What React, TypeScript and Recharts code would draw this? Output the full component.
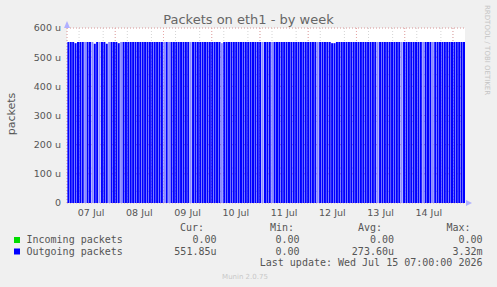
import { BarChart, Bar, XAxis, YAxis, CartesianGrid, Cell } from 'recharts';

// packets per slot (u = micro)
const SLOT_VALUES = [
  552, 552, 552, 548, 552, 552, 552, 552, 552, 552, 552, 546, 552, 552, 552, 552, 546, 552, 552, 552,
  552, 548, 552, 552, 552, 552, 552, 552, 552, 552, 552, 552, 552, 552, 552, 552, 552, 552, 552, 552,
  552, 552, 552, 552, 552, 552, 552, 552, 552, 552, 552, 552, 552, 552, 552, 552, 552, 552, 552, 552,
  552, 552, 552, 552, 548, 552, 552, 552, 552, 552, 552, 552, 552, 552, 552, 552, 552, 552, 552, 552,
  552, 552, 552, 552, 552, 552, 552, 552, 552, 552, 552, 552, 552, 552, 552, 552, 552, 552, 552, 552,
  552, 552, 552, 552, 552, 552, 552, 552, 552, 552, 548, 548, 552, 552, 552, 552, 552, 552, 552, 552,
  552, 552, 552, 552, 552, 552, 552, 552, 552, 552, 552, 552, 552, 552, 552, 552, 552, 552, 552, 552,
  552, 552, 552, 552, 552, 552, 552, 552, 552, 552, 552, 552, 552, 552, 552, 552, 552, 552, 552, 552,
  552, 552, 552, 552, 552, 552,
];
const FAINT_SLOTS = [7, 10, 13, 17, 22, 40, 42, 51, 64, 81, 85, 104, 129, 139, 148, 152];

const Y_TICKS = [0, 100, 200, 300, 400, 500, 600];
const Y_MINOR = [0, 20, 40, 60, 80, 100, 120, 140, 160, 180, 200, 220, 240, 260, 280, 300, 320, 340, 360, 380, 400, 420, 440, 460, 480, 500, 520, 540, 560, 580, 600];

// hours since 07 Jul 00:00
const HOURS_SPAN = 198;
const DAY_LABEL_HOURS = [12, 36, 60, 84, 108, 132, 156, 180];
const DAY_LABELS = ['07 Jul', '08 Jul', '09 Jul', '10 Jul', '11 Jul', '12 Jul', '13 Jul', '14 Jul'];
const MIDNIGHT_HOURS = [0, 24, 48, 72, 96, 120, 144, 168, 192];
const SIX_HOUR_MARKS = [0, 6, 12, 18, 24, 30, 36, 42, 48, 54, 60, 66, 72, 78, 84, 90, 96, 102, 108, 114, 120, 126, 132, 138, 144, 150, 156, 162, 168, 174, 180, 186, 192];

const SERIES = ['Incoming packets', 'Outgoing packets'];
const SERIES_COLORS = ['#00dd00', '#0000ff'];
const CUR = ['0.00', '551.85u'];
const MIN = ['0.00', '0.00'];
const AVG = ['0.00', '273.60u'];
const MAX = ['0.00', '3.32m'];
const LAST_UPDATE = 'Last update: Wed Jul 15 07:00:00 2026';

// each slot sits at its share of the time span
const slotHours = HOURS_SPAN / SLOT_VALUES.length;
const data = SLOT_VALUES.map((v, i) => ({ hour: (i + 0.5) * slotHours, packets: v }));

const mono = 'DejaVu Sans Mono';

export default function App() {
  return (
    <div style={{ position: 'absolute', left: 0, top: 0, width: 497, height: 287, background: '#f0f0f0', fontFamily: 'DejaVu Sans' }}>
      <BarChart width={497} height={287} data={data} margin={{ top: 28, right: 32, bottom: 64, left: 7 }} barCategoryGap="16%">
        <CartesianGrid
          fill="#ffffff"
          stroke="#d4d4d4"
          strokeDasharray="1 2"
          horizontalValues={Y_MINOR}
          verticalValues={SIX_HOUR_MARKS}
        />
        <CartesianGrid stroke="#e9a6a6" strokeDasharray="1 2" horizontalValues={Y_TICKS} verticalValues={MIDNIGHT_HOURS} />
        <XAxis
          dataKey="hour"
          type="number"
          domain={[0, HOURS_SPAN]}
          ticks={DAY_LABEL_HOURS}
          allowDataOverflow
          height={20}
          axisLine={false}
          tickLine={false}
          tickSize={6}
          tickMargin={0}
          tickFormatter={(h: number) => DAY_LABELS[DAY_LABEL_HOURS.indexOf(h)]}
          tick={{ fontSize: 9.5, fill: '#555', fontFamily: 'DejaVu Sans' }}
        />
        <YAxis
          domain={[0, 600]}
          ticks={Y_TICKS}
          width={60}
          axisLine={false}
          tickLine={false}
          tickSize={4}
          tickMargin={2}
          tickFormatter={(v: number) => (v === 0 ? '0' : `${v} u`)}
          tick={{ fontSize: 9.5, fill: '#555', fontFamily: 'DejaVu Sans' }}
        />
        <Bar dataKey="packets" fill="#0000ff" isAnimationActive={false}>
          {data.map((_, i) => (
            <Cell key={i} fill={FAINT_SLOTS.includes(i) ? '#8a8aff' : '#0000ff'} />
          ))}
        </Bar>
      </BarChart>
      <svg width={497} height={287} style={{ position: 'absolute', left: 0, top: 0, pointerEvents: 'none' }}>
        <text x={248.5} y={23.5} textAnchor="middle" fontSize={13} fill="#666" fontFamily="DejaVu Sans">
          Packets on eth1 - by week
        </text>
        <text x={0} y={0} transform="translate(15,114) rotate(-90)" textAnchor="middle" fontSize={11} fill="#555" fontFamily="DejaVu Sans">
          packets
        </text>
        <text x={0} y={0} transform="translate(485,5) rotate(90)" textAnchor="start" fontSize={7} fill="#c4c4c4" fontFamily="DejaVu Sans">
          RRDTOOL / TOBI OETIKER
        </text>
        {/* axis arrows */}
        <polygon points="64,28 70,28 67,21" fill="#b0b0ff" />
        <polygon points="466,200 466,206 472,203" fill="#b0b0ff" />
        {/* legend table */}
        <g fontFamily={mono} fontSize={10} fill="#555">
          <text x={180} y={231}>Cur:</text>
          <text x={270} y={231}>Min:</text>
          <text x={358} y={231}>Avg:</text>
          <text x={446.5} y={231}>Max:</text>
          {SERIES.map((name, i) => {
            const y = 243 + i * 11.5;
            return (
              <g key={name}>
                <rect x={14} y={y - 6} width={6} height={6} fill={SERIES_COLORS[i]} />
                <text x={26.5} y={y}>{name}</text>
                <text x={216.5} y={y} textAnchor="end">{CUR[i]}</text>
                <text x={299.5} y={y} textAnchor="end">{MIN[i]}</text>
                <text x={394} y={y} textAnchor="end">{AVG[i]}</text>
                <text x={482.5} y={y} textAnchor="end">{MAX[i]}</text>
              </g>
            );
          })}
          <text x={482.5} y={266} textAnchor="end">{LAST_UPDATE}</text>
        </g>
        <text x={245} y={279} textAnchor="middle" fontSize={7} fill="#c8c8c8" fontFamily="DejaVu Sans">
          Munin 2.0.75
        </text>
      </svg>
    </div>
  );
}
